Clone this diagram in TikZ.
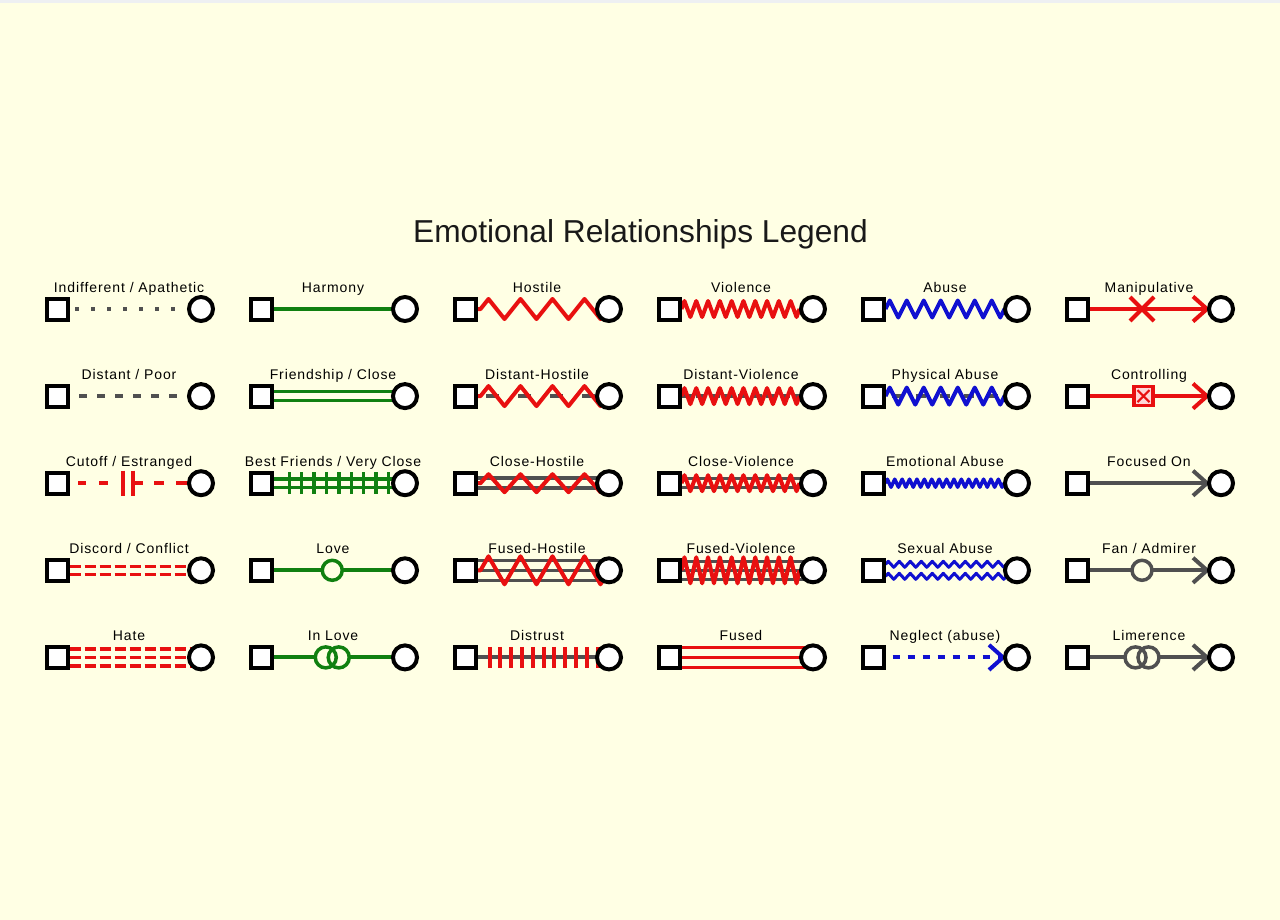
\documentclass[tikz,border=0pt]{standalone}
\usepackage{fontspec}
\usetikzlibrary{calc}
\newfontfamily\labfont[LetterSpace=6.5]{Liberation Sans}
\newfontfamily\titfont{Liberation Sans}
\definecolor{bgc}{RGB}{255,255,228}
\definecolor{topg}{RGB}{238,240,242}
\definecolor{rd}{RGB}{232,16,16}
\definecolor{gn}{RGB}{16,128,16}
\definecolor{bl}{RGB}{16,16,208}
\definecolor{gy}{RGB}{80,80,80}
\definecolor{pk}{RGB}{255,215,215}
\pgfdeclarelayer{bgl}
\pgfdeclarelayer{conn}
\pgfsetlayers{bgl,conn,main}

\newcommand\mkcell[4]{%
 \node[sq] (s#3) at ({57+204*#1},{309+87.1*#2}) {};
 \node[ci] (o#3) at ({201+204*#1},{309+87.1*#2}) {};
 \node[lab] (l#3) at ({129+204*#1},{292+87.1*#2}) {#4};
}
% name, style, yoff, lead, half period, amplitude, pairs
\newcommand\zig[7]{%
 \draw[#2] ($(s#1.east)+(0,#3)$) -- ++(#4,0) -- ++({#5/2},{-#6})
   \foreach \k in {1,...,#7}{ -- ++(#5,{2*#6}) -- ++(#5,{-2*#6}) }
   -- ++(#5,{2*#6}) -- ++({#5/2},{-#6});
}
\newcommand\chev[2]{\draw[#2, line width=4pt, line join=miter] ($(o#1.west)+(-14,-12.5)$) -- (o#1.west) -- ($(o#1.west)+(-14,12.5)$);}

\begin{document}
\begin{tikzpicture}[x=1pt,y=-1pt,
  sq/.style={rectangle, draw=black, line width=4pt, fill=white, minimum size=21pt, inner sep=0pt},
  ci/.style={circle, draw=black, line width=4pt, fill=white, minimum size=24pt, inner sep=0pt},
  lab/.style={font=\labfont\fontsize{14}{16}\selectfont, anchor=base, inner sep=0pt, text=black}]
\begin{pgfonlayer}{bgl}
\fill[bgc] (0,0) rectangle (1280,920);
\fill[topg] (0,0) rectangle (1280,3.5);
\end{pgfonlayer}
\useasboundingbox (0,0) rectangle (1280,920);

\node[font=\titfont\fontsize{31.7}{36}\selectfont, anchor=base, inner sep=0pt, text=black!90] (title) at (640.5,243) {Emotional Relationships Legend};

\mkcell{0}{0}{a1}{Indifferent / Apathetic}
\mkcell{0}{1}{a2}{Distant / Poor}
\mkcell{0}{2}{a3}{Cutoff / Estranged}
\mkcell{0}{3}{a4}{Discord / Conflict}
\mkcell{0}{4}{a5}{Hate}
\mkcell{1}{0}{b1}{Harmony}
\mkcell{1}{1}{b2}{Friendship / Close}
\mkcell{1}{2}{b3}{Best Friends / Very Close}
\mkcell{1}{3}{b4}{Love}
\mkcell{1}{4}{b5}{In Love}
\mkcell{2}{0}{c1}{Hostile}
\mkcell{2}{1}{c2}{Distant-Hostile}
\mkcell{2}{2}{c3}{Close-Hostile}
\mkcell{2}{3}{c4}{Fused-Hostile}
\mkcell{2}{4}{c5}{Distrust}
\mkcell{3}{0}{d1}{Violence}
\mkcell{3}{1}{d2}{Distant-Violence}
\mkcell{3}{2}{d3}{Close-Violence}
\mkcell{3}{3}{d4}{Fused-Violence}
\mkcell{3}{4}{d5}{Fused}
\mkcell{4}{0}{e1}{Abuse}
\mkcell{4}{1}{e2}{Physical Abuse}
\mkcell{4}{2}{e3}{Emotional Abuse}
\mkcell{4}{3}{e4}{Sexual Abuse}
\mkcell{4}{4}{e5}{Neglect (abuse)}
\mkcell{5}{0}{f1}{Manipulative}
\mkcell{5}{1}{f2}{Controlling}
\mkcell{5}{2}{f3}{Focused On}
\mkcell{5}{3}{f4}{Fan / Admirer}
\mkcell{5}{4}{f5}{Limerence}

\begin{pgfonlayer}{conn}
% column 1
\draw[gy, line width=3.5pt, dash pattern=on 3.5pt off 12.5pt, dash phase=10.5pt] (sa1.east) -- (oa1.west);
\draw[gy, line width=4pt, dash pattern=on 8pt off 10pt, dash phase=8.5pt, shorten >=2pt] (sa2.east) -- (oa2.west);
\draw[rd, line width=4pt, dash pattern=on 0pt off 8.5pt on 8pt off 13pt on 9pt off 25pt on 10pt off 11pt on 10pt off 12pt on 40pt] (sa3.east) -- (oa3.center);
\draw[rd, line width=4pt] ($(sa3.east)+(53.5,-12.5)$) -- ++(0,25);
\draw[rd, line width=4pt] ($(sa3.east)+(63.5,-12.5)$) -- ++(0,25);
\foreach \dy in {-4,4} \draw[rd, line width=3.5pt, dash pattern=on 11pt off 4pt] ($(sa4.east)+(0,\dy)$) -- ($(oa4.center)+(0,\dy)$);
\foreach \dy in {-8.5,0,8.5} \draw[rd, line width=3.5pt, dash pattern=on 11pt off 4pt] ($(sa5.east)+(0,\dy)$) -- ($(oa5.center)+(0,\dy)$);
% column 2
\draw[gn, line width=4pt] (sb1.east) -- (ob1.center);
\foreach \dy in {-4.5,4.5} \draw[gn, line width=3.5pt] ($(sb2.east)+(0,\dy)$) -- ($(ob2.center)+(0,\dy)$);
\foreach \dy in {-4.2,4.2} \draw[gn, line width=3.5pt] ($(sb3.east)+(0,\dy)$) -- ($(ob3.center)+(0,\dy)$);
\foreach \k in {0,...,8} \draw[gn, line width=3.5pt] ($(sb3.east)+({15.8+12.4*\k},-11)$) -- ++(0,22);
\draw[gn, line width=4pt] (sb4.east) -- (ob4.center);
\coordinate (mb4) at ($(sb4.east)!0.5!(ob4.west)$);
\draw[gn, line width=3.5pt, fill=bgc] (mb4) circle[radius=10pt];
\draw[gn, line width=4pt] (sb5.east) -- (ob5.center);
\coordinate (mb5) at ($(sb5.east)!0.5!(ob5.west)$);
\fill[bgc] ($(mb5)+(-6.5,0)$) circle[radius=10.5pt] ($(mb5)+(6.5,0)$) circle[radius=10.5pt];
\draw[gn, line width=3.5pt] ($(mb5)+(-6.5,0)$) circle[radius=10.5pt] ($(mb5)+(6.5,0)$) circle[radius=10.5pt];
% column 3
\zig{c1}{rd, line width=4pt, line join=round}{0}{3}{16}{10}{3}
\draw[gy, line width=4pt, dash pattern=on 13pt off 19pt, dash phase=23.5pt] (sc2.east) -- (oc2.west);
\zig{c2}{rd, line width=4pt, line join=round}{0}{3}{16}{10}{3}
\foreach \dy in {-5,5} \draw[gy, line width=3.5pt] ($(sc3.east)+(0,\dy)$) -- ($(oc3.center)+(0,\dy)$);
\zig{c3}{rd, line width=4pt, line join=round}{0}{3}{16}{9}{3}
\foreach \dy in {-10,0,10} \draw[gy, line width=3.5pt] ($(sc4.east)+(0,\dy)$) -- ($(oc4.center)+(0,\dy)$);
\zig{c4}{rd, line width=4pt, line join=round}{0}{3}{16}{14}{3}
\draw[gy, line width=4pt] (sc5.east) -- (oc5.center);
\foreach \k in {0,...,10} \draw[rd, line width=4pt] ($(sc5.east)+({12+10.8*\k},-10.5)$) -- ++(0,21);
% column 4
\zig{d1}{rd, line width=4pt, line join=round}{0}{0}{5.9}{8}{9}
\draw[gy, line width=4pt, dash pattern=on 10pt off 4pt] (sd2.east) -- (od2.center);
\zig{d2}{rd, line width=4pt, line join=round}{0}{0}{5.9}{8}{9}
\foreach \dy in {-4.5,4.5} \draw[gy, line width=3.5pt] ($(sd3.east)+(0,\dy)$) -- ($(od3.center)+(0,\dy)$);
\zig{d3}{rd, line width=4pt, line join=round}{0}{0}{5.9}{8}{9}
\foreach \dy in {-9,0,9} \draw[gy, line width=3.5pt] ($(sd4.east)+(0,\dy)$) -- ($(od4.center)+(0,\dy)$);
\zig{d4}{rd, line width=4pt, line join=round}{0}{0}{5.9}{13}{9}
\foreach \dy in {-10,0,10} \draw[rd, line width=3.5pt] ($(sd5.east)+(0,\dy)$) -- ($(od5.center)+(0,\dy)$);
% column 5
\zig{e1}{bl, line width=4pt, line join=round}{0}{0}{8.5}{8.5}{6}
\draw[gy, line width=4pt, dash pattern=on 10pt off 14pt, dash phase=18pt] (se2.east) -- (oe2.west);
\zig{e2}{bl, line width=4pt, line join=round}{0}{0}{8.5}{8.5}{6}
\zig{e3}{bl, line width=3.5pt, line join=round}{0}{0}{3.7}{4}{15}
\zig{e4}{bl, line width=3pt, line join=round}{-6}{0}{5.5}{3}{10}
\zig{e4}{bl, line width=3pt, line join=round}{6}{0}{5.5}{3}{10}
\draw[bl, line width=4pt, dash pattern=on 7pt off 8pt, dash phase=7.8pt] (se5.east) -- ($(oe5.west)+(-2,0)$);
\chev{e5}{bl}
% column 6
\draw[rd, line width=4pt] (sf1.east) -- (of1.west);
\coordinate (mf1) at ($(sf1.east)+(52.5,0)$);
\draw[rd, line width=4pt] ($(mf1)+(-12,-12)$) -- ($(mf1)+(12,12)$) ($(mf1)+(-12,12)$) -- ($(mf1)+(12,-12)$);
\chev{f1}{rd}
\draw[rd, line width=4pt] (sf2.east) -- (of2.west);
\coordinate (mf2) at ($(sf2.east)+(54,0)$);
\draw[rd, line width=3.5pt, fill=pk] ($(mf2)+(-9.5,-9.5)$) rectangle ($(mf2)+(9.5,9.5)$);
\draw[rd, line width=2pt] ($(mf2)+(-6,-6)$) -- ($(mf2)+(6,6)$) ($(mf2)+(-6,6)$) -- ($(mf2)+(6,-6)$);
\chev{f2}{rd}
\draw[gy, line width=4pt] (sf3.east) -- (of3.west);
\chev{f3}{gy}
\draw[gy, line width=4pt] (sf4.east) -- (of4.west);
\coordinate (mf4) at ($(sf4.east)+(52.5,0)$);
\draw[gy, line width=3.5pt, fill=bgc] (mf4) circle[radius=10pt];
\chev{f4}{gy}
\draw[gy, line width=4pt] (sf5.east) -- (of5.west);
\coordinate (mf5) at ($(sf5.east)+(52.5,0)$);
\fill[bgc] ($(mf5)+(-6.5,0)$) circle[radius=10.5pt] ($(mf5)+(6.5,0)$) circle[radius=10.5pt];
\draw[gy, line width=3.5pt] ($(mf5)+(-6.5,0)$) circle[radius=10.5pt] ($(mf5)+(6.5,0)$) circle[radius=10.5pt];
\chev{f5}{gy}
\end{pgfonlayer}
\end{tikzpicture}
\end{document}
